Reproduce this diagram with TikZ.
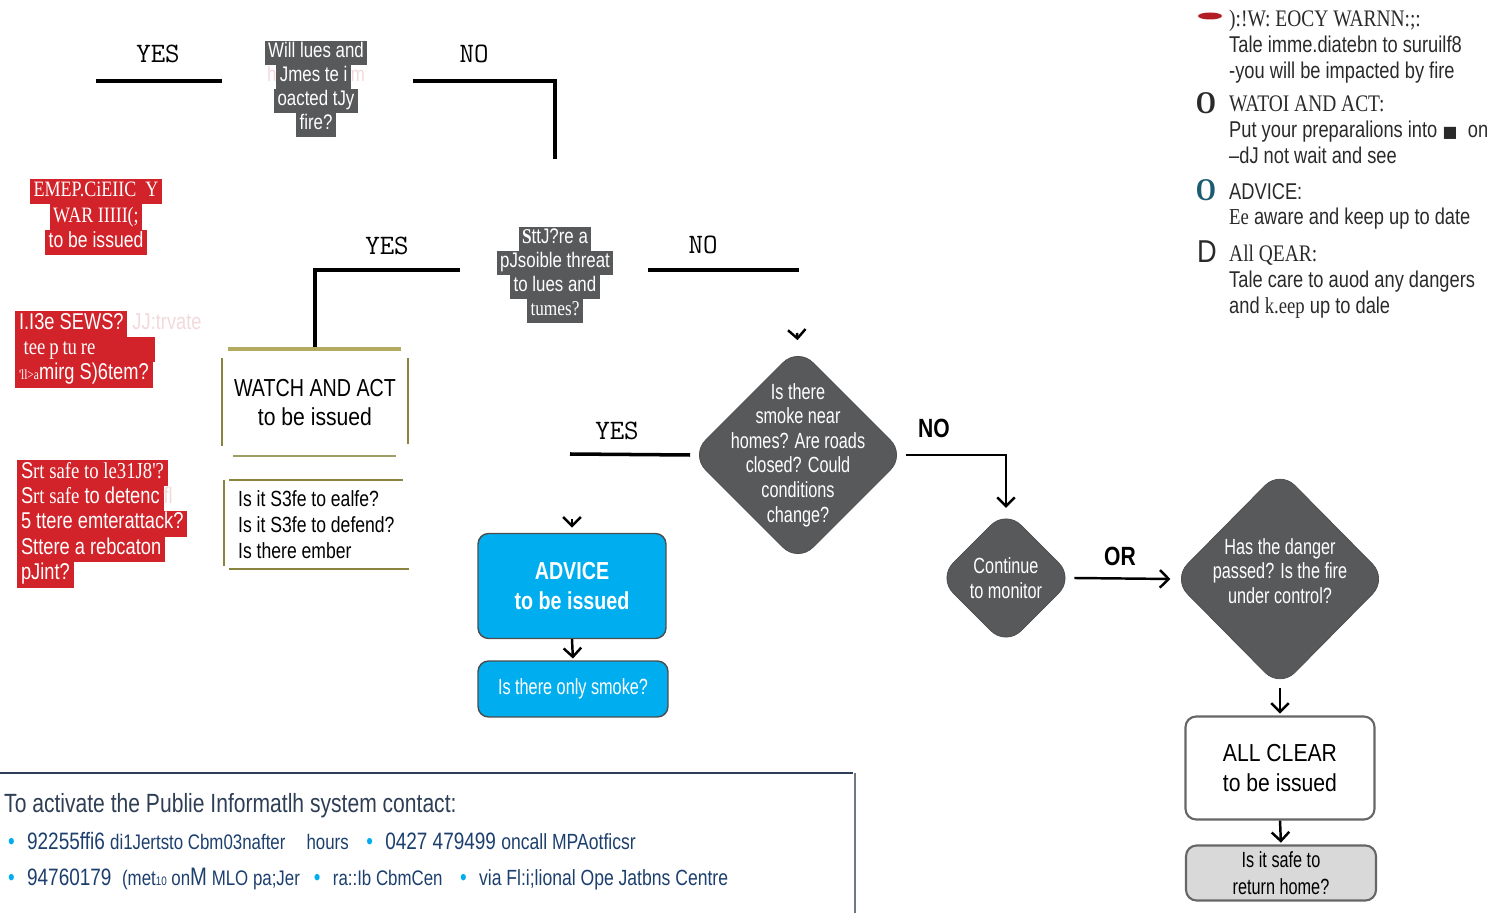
\documentclass[tikz,border=0pt]{standalone}
\usepackage{fontspec}
\setmainfont{Liberation Sans}
\newfontfamily\narrowsans[FakeStretch=0.8]{Liberation Sans}
\newfontfamily\slimsans[FakeStretch=0.74]{Liberation Sans}
\newfontfamily\semisans[FakeStretch=0.86]{Liberation Sans}
\newfontfamily\narrowserif[FakeStretch=0.82]{Liberation Serif}
\newfontfamily\symbolfont{DejaVu Sans}
\usetikzlibrary{shapes.geometric,arrows.meta,positioning}

\definecolor{warnred}{HTML}{D2232A}
\definecolor{qgrey}{HTML}{58595B}
\definecolor{advblue}{HTML}{00AEEF}
\definecolor{watop}{HTML}{B3AB5F}
\definecolor{waside}{HTML}{8A8440}
\definecolor{infonavy}{HTML}{2E3F55}
\definecolor{numnavy}{HTML}{1C3F6E}
\definecolor{paleink}{HTML}{F2D9DC}
\definecolor{advteal}{HTML}{1B5C70}
\definecolor{legdark}{HTML}{2A2A2A}

\setlength{\fboxsep}{0pt}
\newcommand{\redbar}[1]{\colorbox{warnred}{\strut\,#1\,}}
\newcommand{\greybar}[1]{\colorbox{qgrey}{\strut\,#1\,}}

\begin{document}
\begin{tikzpicture}[x=0.02cm,y=-0.02cm,shorten >=1pt,
	flow line/.style={line width=2pt,shorten >=0pt},
	arrow line/.style={line width=1.4pt,-{Straight Barb[length=5pt,width=10pt,line width=1.4pt]}},
	answer/.style={font=\fontsize{16}{18}\ttfamily},
	bold answer/.style={font=\fontsize{15}{18}\narrowsans\bfseries},
	question/.style={text=white,align=center,font=\fontsize{12}{13.6}\narrowsans},
	warning/.style={text=white,align=left,anchor=north west,font=\fontsize{13}{14.5}\narrowsans},
	decision/.style={diamond,fill=qgrey,draw=qgrey!85!black,inner sep=0pt,rounded corners=12pt},
	qlabel/.style={text=white,align=center,font=\fontsize{12.5}{14}\slimsans},
	adv box/.style={rectangle,rounded corners=6pt,fill=advblue,draw=black!70,line width=0.8pt,text=white,align=center},
	clear box/.style={rectangle,rounded corners=6pt,draw=gray!80!black,line width=1.2pt,align=center},
	legend/.style={anchor=north west,align=left,text=legdark,font=\fontsize{13}{14.7}\narrowsans}]

\useasboundingbox (0,0) rectangle (1499,915);

% top question
\node[question] (lives) at (316,89) {\greybar{Will lues and}\\{\color{paleink}h}\greybar{Jmes te i}{\color{paleink}m}\\\greybar{oacted tJy}\\\greybar{fire?}};
\node[answer] (yes1) at (158,54) {YES};
\node[answer] (no1) at (474,54) {NO};
\coordinate (yes1 start) at (222,81);
\coordinate (yes1 end) at (96,81);
\coordinate (no1 start) at (413,81);
\coordinate (no1 end) at (555,159);
\draw[flow line] (yes1 start) -- (yes1 end);
\draw[flow line] (no1 start) -| (no1 end);

\node[warning,align=center,anchor=center,font=\fontsize{12.5}{14.5}\narrowsans] (emergency) at (96,217) {\redbar{{\narrowserif EMEP.CiEIIC\ \ Y}}\\\redbar{{\narrowserif WAR IIIII(;}}\\\redbar{to be issued}};

% second question
\node[question] (threat) at (555,275) {\greybar{{\narrowserif\bfseries S}ttJ?re a}\\\greybar{pJsoible threat}\\\greybar{to lues and}\\\greybar{{\narrowserif tumes?}}};
\node[answer] (yes2) at (387,246) {YES};
\node[answer] (no2) at (703,245) {NO};
\coordinate (yes2 start) at (460,270);
\coordinate (yes2 end) at (315,349);
\coordinate (no2 start) at (648,270);
\coordinate (no2 end) at (799,270);
\draw[flow line] (yes2 start) -| (yes2 end);
\draw[flow line] (no2 start) -- (no2 end);

\node[warning] (sews) at (9,305) {\redbar{I.I3e SEWS?}{\color{paleink}\ JJ:trvate}\\\redbar{{\narrowserif\ tee\,p\,tu\,re}\hspace{32pt}}\\\redbar{{\narrowserif\footnotesize 'll>a}mirg S)6tem?}};
\node[warning] (safety) at (11,454) {\redbar{S{\narrowserif rt safe to le31J8'?}}\\\redbar{S{\narrowserif rt safe} to detenc}{\color{paleink}fl}\\\redbar{5 ttere emterattack?}\\\redbar{Sttere a rebcaton}\\\redbar{pJint?}};

% watch and act
\node[align=center,font=\fontsize{14}{16.5}\narrowsans] (watch) at (315,403) {WATCH AND ACT\\{\semisans to be issued}};
\draw[watop,line width=2.2pt] (228,349) -- (403,349);
\draw[waside,line width=1.2pt] (222,358) -- (222,448);
\draw[waside,line width=1.2pt] (408,358) -- (408,446);
\draw[waside!80,line width=1.4pt] (233,456) -- (398,456);
\node[anchor=north west,align=left,font=\fontsize{12.5}{15}\narrowsans] (checks) at (232,484) {Is it S3fe to ealfe?\\Is it S3fe to defend?\\Is there ember};
\draw[waside,line width=0.8pt] (229,480) -- (405,480);
\draw[waside,line width=0.8pt] (224,480) -- (224,568);
\draw[waside,line width=1.2pt] (229,569) -- (411,569);

% smoke / advice
\node[decision,minimum width=4.3cm,minimum height=4.3cm,
	label={[qlabel]center:{Is there\\smoke near\\homes? Are roads\\closed? Could\\conditions\\change?}}] (smoke) at (798,455) {};
\coordinate (smoke stub) at (797,333);
\draw[arrow line,shorten >=4pt] (smoke stub) -- (smoke.north);
\node[answer] (yes3) at (617,431) {YES};
\coordinate (yes3 end) at (570,454);
\draw[flow line] (smoke.west) -- (yes3 end);
\node[bold answer] (no3) at (934,428) {NO};

\node[adv box,minimum width=3.76cm,minimum height=2.1cm,font=\fontsize{14}{17}\narrowsans\bfseries] (advice) at (572,586) {ADVICE\\to be issued};
\coordinate (advice stub) at (572,519);
\draw[arrow line,shorten >=3pt] (advice stub) -- (advice.north);
\node[adv box,minimum width=3.8cm,minimum height=1.12cm,font=\fontsize{12.5}{14}\slimsans] (onlysmoke) at (573,689) {Is there only smoke?};
\draw[arrow line] (advice.south) -- (onlysmoke.north);

% monitor / all clear
\node[decision,minimum width=2.72cm,minimum height=2.72cm,
	label={[qlabel]center:{Continue\\to monitor}}] (monitor) at (1006,578) {};
\draw[arrow line] (smoke.east) -| (monitor.north);
\node[decision,minimum width=4.3cm,minimum height=4.35cm,
	label={[qlabel,yshift=4.5pt]center:{Has the danger\\passed? Is the fire\\under control?}}] (danger) at (1280,579) {};
\draw[arrow line] (monitor.east) -- (danger.west);
\node[bold answer] (or) at (1120,556) {OR};

\node[clear box,fill=white,minimum width=3.78cm,minimum height=2.06cm,font=\fontsize{14}{17}\semisans] (allclear) at (1280,768) {ALL CLEAR\\to be issued};
\draw[arrow line] (danger.south) -- (allclear.north);
\node[clear box,fill=gray!30,minimum width=3.8cm,minimum height=1.1cm,font=\fontsize{12.5}{15}\slimsans] (home) at (1281,873) {Is it safe to\\return home?};
\draw[arrow line] (allclear.south) -- (home.north);

% legend
\node[ellipse,fill=warnred!85!black,minimum width=0.48cm,minimum height=0.14cm,inner sep=0pt] (mark1) at (1210,16) {};
\node[legend] (leg1) at (1223,4) {{\fontsize{13.5}{14.7}\narrowserif ):!W: EOCY WARNN:;:}\\Tale imme.diatebn to suruilf8\\-you will be impacted by fire};
\node[font=\fontsize{18}{18}\narrowserif\bfseries,text=legdark] (mark2) at (1206,103) {O};
\node[legend] (leg2) at (1223,90) {{\fontsize{13.5}{14.7}\narrowserif WATOI AND ACT:}\\Put your preparalions into {\symbolfont\small ■}\hspace{6pt}on\\–dJ not wait and see};
\node[font=\fontsize{18}{18}\narrowserif\bfseries,text=advteal] (mark3) at (1206,190) {O};
\node[legend] (leg3) at (1223,177) {ADVICE:\\{\narrowserif Ee} aware and keep up to date};
\node[font=\fontsize{18}{18}\semisans,text=legdark] (mark4) at (1207,252) {D};
\node[legend] (leg4) at (1223,239) {{\fontsize{13.5}{14.7}\narrowserif All QEAR:}\\Tale care to auod any dangers\\and {\narrowserif k.eep} up to dale};

% contact panel
\draw[infonavy,line width=1.2pt] (0,773) -- (855,773);
\draw[infonavy!70,line width=0.8pt] (855,773) -- (855,915);
\node[anchor=west,text=infonavy,font=\fontsize{15}{17}\narrowsans] (contact) at (-2,806) {To activate the Publie Informatlh system contact:};
\node[anchor=west,text=numnavy,font=\fontsize{13.5}{16}\narrowsans] (contact1) at (2,841) {{\color{advblue}•}\hspace{7pt}92255ffi6 {\fontsize{12}{14}\selectfont di1Jertsto Cbm03nafter\quad hours}\hspace{10pt}{\color{advblue}•}\hspace{7pt}0427 479499 {\fontsize{12.5}{14}\selectfont oncall MPAotficsr}};
\node[anchor=west,text=numnavy,font=\fontsize{13.5}{16}\narrowsans] (contact2) at (2,879) {{\color{advblue}•}\hspace{7pt}94760179 \ {\fontsize{12}{14}\selectfont(met{\scriptsize 10} on{\Large M} MLO pa;Jer}\hspace{8pt}{\color{advblue}•}\hspace{7pt}{\fontsize{12}{14}\selectfont ra::Ib CbmCen}\hspace{10pt}{\color{advblue}•}\hspace{7pt}{\fontsize{12.5}{14}\selectfont via Fl:i;lional Ope Jatbns Centre}};

\end{tikzpicture}
\end{document}
